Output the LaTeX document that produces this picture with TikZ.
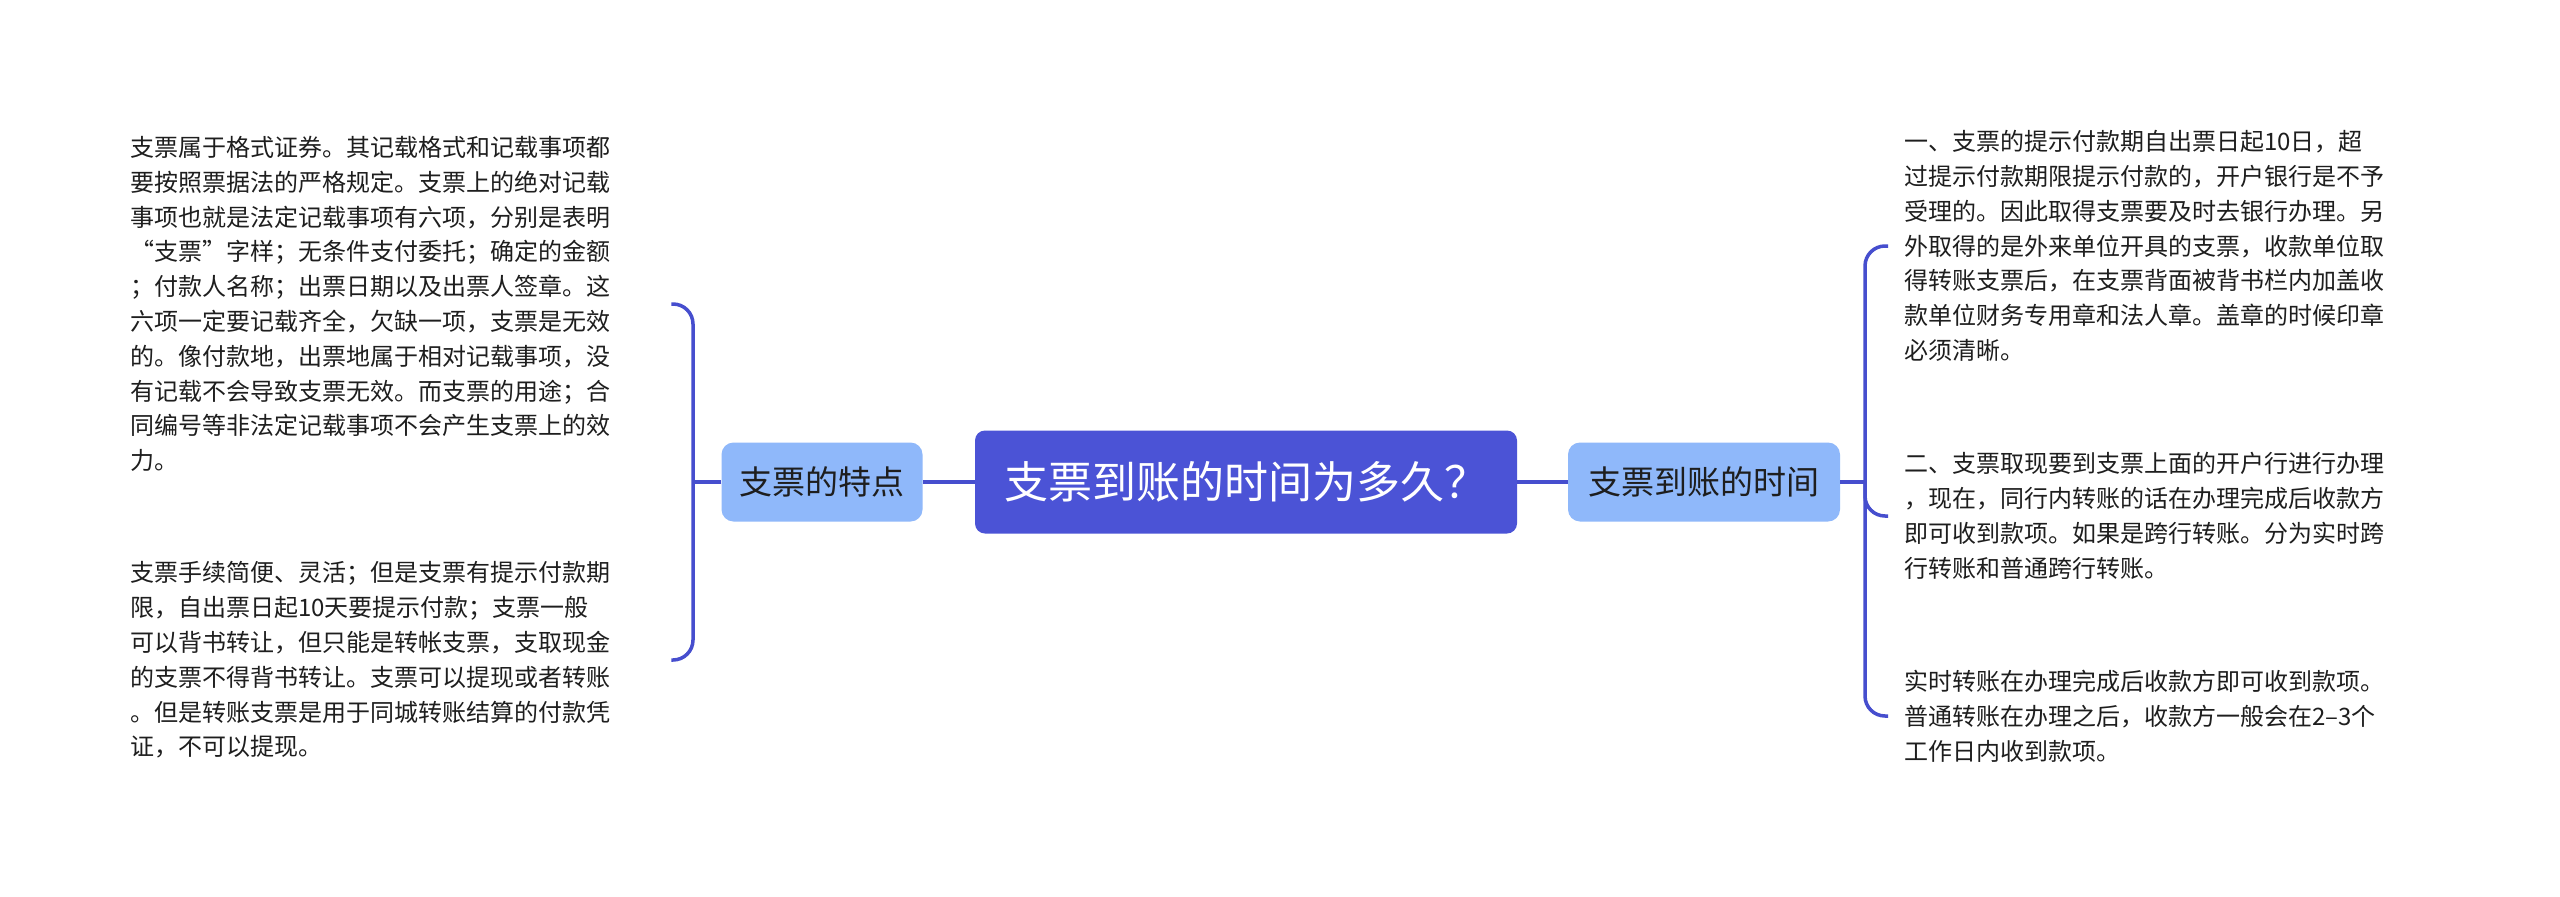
\documentclass[tikz,border=0pt]{standalone}
\usepackage{fontspec}
\setmainfont{Noto Sans CJK SC}
\usetikzlibrary{positioning}
\definecolor{mainblue}{RGB}{75,83,214}
\definecolor{lightblue}{RGB}{143,184,250}
\definecolor{linkblue}{RGB}{70,78,206}
\definecolor{textgray}{RGB}{30,30,30}

\begin{document}
\begin{tikzpicture}[x=1pt, y=-1pt,
    rootbox/.style={fill=mainblue, rounded corners=10pt, text=white, minimum width=542pt, minimum height=103pt, font=\fontsize{44}{52}\selectfont},
    subbox/.style={fill=lightblue, rounded corners=12pt, text=textgray, minimum height=79pt, inner xsep=18pt, font=\fontsize{33}{40}\selectfont},
    leaftext/.style={text=textgray, align=left, anchor=west, inner xsep=8pt, font=\fontsize{24}{34.8}\selectfont},
    link/.style={draw=linkblue, line width=3.5pt, rounded corners=20pt}]
    \fill[white] (0,0) rectangle (2560,897);
    \useasboundingbox (0,0) rectangle (2560,897);

    \node[rootbox] (root) at (1246,482) {支票到账的时间为多久？};
    \node[subbox, minimum width=200pt] (feat) at (822,482) {支票的特点};
    \node[subbox, minimum width=272pt] (time) at (1704,482) {支票到账的时间};

    \node[leaftext, text width=533pt] (featA) at (122,304) {支票属于格式证券。其记载格式和记载事项都\\要按照票据法的严格规定。支票上的绝对记载\\事项也就是法定记载事项有六项，分别是表明\\“支票”字样；无条件支付委托；确定的金额\\；付款人名称；出票日期以及出票人签章。这\\六项一定要记载齐全，欠缺一项，支票是无效\\的。像付款地，出票地属于相对记载事项，没\\有记载不会导致支票无效。而支票的用途；合\\同编号等非法定记载事项不会产生支票上的效\\力。};
    \node[leaftext, text width=533pt] (featB) at (122,660) {支票手续简便、灵活；但是支票有提示付款期\\限，自出票日起10天要提示付款；支票一般\\可以背书转让，但只能是转帐支票，支取现金\\的支票不得背书转让。支票可以提现或者转账\\。但是转账支票是用于同城转账结算的付款凭\\证，不可以提现。};

    \node[leaftext, inner xsep=16pt, text width=520pt] (timeA) at (1888,246) {一、支票的提示付款期自出票日起10日，超\\过提示付款期限提示付款的，开户银行是不予\\受理的。因此取得支票要及时去银行办理。另\\外取得的是外来单位开具的支票，收款单位取\\得转账支票后，在支票背面被背书栏内加盖收\\款单位财务专用章和法人章。盖章的时候印章\\必须清晰。};
    \node[leaftext, inner xsep=16pt, text width=520pt] (timeB) at (1888,516) {二、支票取现要到支票上面的开户行进行办理\\，现在，同行内转账的话在办理完成后收款方\\即可收到款项。如果是跨行转账。分为实时跨\\行转账和普通跨行转账。};
    \node[leaftext, inner xsep=16pt, text width=520pt] (timeC) at (1888,716) {实时转账在办理完成后收款方即可收到款项。\\普通转账在办理之后，收款方一般会在2–3个\\工作日内收到款项。};

    \coordinate (lbus) at (693,482);
    \coordinate (rbus) at (1865,482);

    \draw[link] (root) -- (feat);
    \draw[link] (root) -- (time);
    \draw[link] (feat.west) -- (lbus);
    \draw[link] (featA.east) -| (lbus) |- (featB.east);
    \draw[link] (time.east) -- (rbus);
    \draw[link] (timeA.west) -| (rbus) |- (timeC.west);
    \draw[link] (rbus) |- (timeB.west);
\end{tikzpicture}
\end{document}
